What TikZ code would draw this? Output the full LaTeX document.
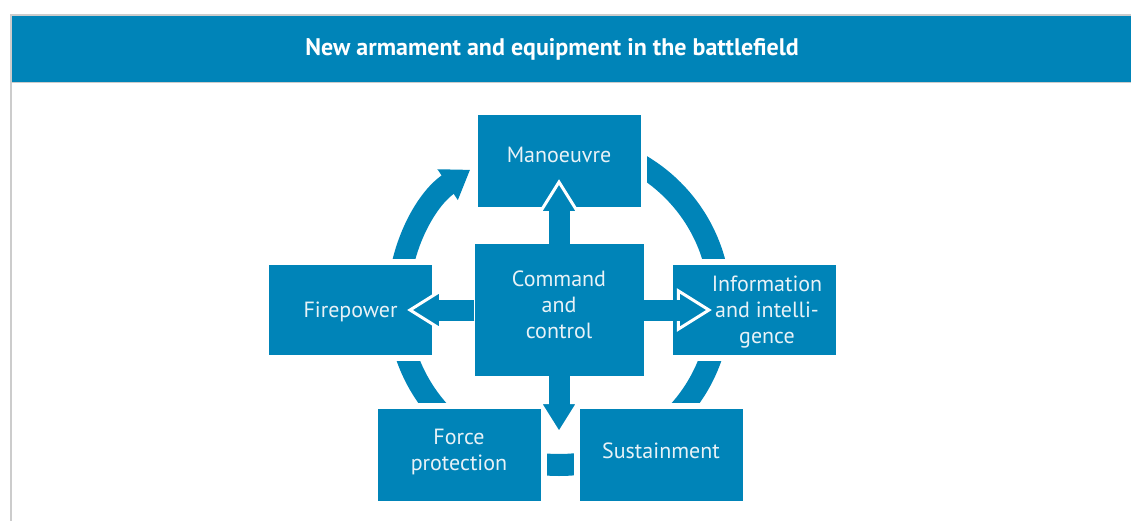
\documentclass[tikz,border=0pt]{standalone}
\usepackage{fontspec}
\setmainfont{PT Sans}
\usetikzlibrary{arrows.meta}

\definecolor{boxblue}{RGB}{0,132,184}
\definecolor{boxtext}{RGB}{232,242,247}
\definecolor{frame}{RGB}{204,204,204}

\begin{document}
\begin{tikzpicture}[x=1pt, y=-1pt,
  box/.style={fill=boxblue, text=boxtext, align=center, inner sep=0pt,
    minimum width=163pt, minimum height=91pt,
    font=\fontsize{22}{26}\selectfont,
    preaction={draw=white, line width=12pt}},
  ring/.style={draw=boxblue, line width=22pt, -{Triangle[width=35pt, length=27pt]}},
  conn/.style={draw=boxblue, line width=21pt,
    -{Triangle[width=43pt, length=35pt, line width=3pt, color=white, fill=boxblue]}},
  connbody/.style={draw=boxblue, line width=21pt, shorten >=30pt}]

\useasboundingbox (0,0) rectangle (1131,521);

% header
\fill[boxblue] (12,16) rectangle (1131,82);
\draw[frame, line width=1.5pt] (11,521) -- (11,15) -- (1131,15);
\draw[frame, line width=1pt] (12,82.5) -- (1131,82.5);
\node[text=white, font=\fontsize{24}{28}\selectfont\bfseries] (title) at (552,49)
  {New armament and equipment in the battlefield};

% the cycle
\coordinate (hub) at (559,304);
\draw[ring] (hub) ++(-90:161) arc[start angle=-90, end angle=236.5, radius=161];

\node[box, minimum height=92pt, text depth=12pt] (man) at (559,161) {Manoeuvre};
\node[box, minimum width=169pt, minimum height=132pt, text depth=11pt] (cc) at (559,310) {Command\\and\\control};
\node[box, minimum height=90pt, text depth=0pt] (fire) at (350.5,310) {Firepower};
\node[box, minimum height=90pt, text depth=0pt] (info) at (754.5,310)
  {\hspace*{25pt}Information\\\hspace*{25pt}and intelli-\\\hspace*{25pt}gence};
\node[box, minimum height=92pt, text depth=11pt] (force) at (459,455) {Force\\protection};
\node[box, minimum height=92pt, text depth=8pt] (sust) at (661,455) {Sustainment};
\coordinate (low) at (559,436);

% arrows out of the centre
\draw[conn] (cc.north) -- ([yshift=28pt]man.south);
\draw[conn] (cc.west) -- ([xshift=-25pt]fire.east);
\draw[conn] (cc.east) -- ([xshift=39pt]info.west);
\draw[conn] (cc.south) -- (low);
\draw[connbody] (cc.north) -- ([yshift=28pt]man.south);
\draw[connbody] (cc.west) -- ([xshift=-25pt]fire.east);
\draw[connbody] (cc.east) -- ([xshift=39pt]info.west);
\draw[connbody] (cc.south) -- (low);
\end{tikzpicture}
\end{document}
